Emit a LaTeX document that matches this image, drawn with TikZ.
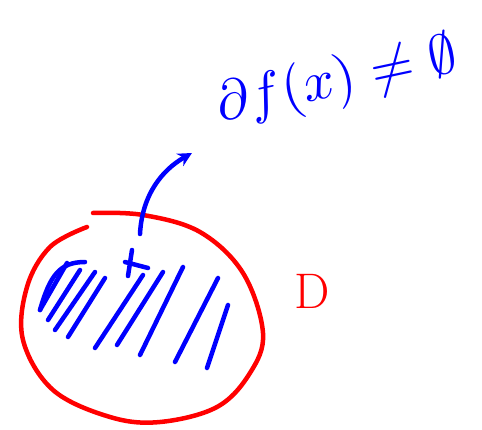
\documentclass[tikz,border=0pt]{standalone}
\usetikzlibrary{arrows.meta}
\usepackage{amsmath,amssymb}

\begin{document}
\begin{tikzpicture}[x=1pt, y=-1pt,
  redpen/.style={draw=red, line width=4.5pt, line cap=round, line join=round},
  bluepen/.style={draw=blue, line width=4.5pt, line cap=round, line join=round},
  arr/.style={-{Stealth[length=14pt, width=14pt]}, bluepen}
]
  \useasboundingbox (0,0) rectangle (482,430);

  % the set D
  \draw[redpen] plot[smooth, tension=0.6] coordinates {
    (93,213) (143,215) (200,232) (243,273) (263,333) (250,373) (217,407)
    (160,422) (110,417) (53,390) (23,340) (27,287) (50,247) (87,227)};
  \node[text=red, font=\fontsize{50}{54}\selectfont] (dlabel) at (312,291) {D};

  % hatching inside D
  \foreach \xa/\ya/\xb/\yb in {40/310/67/263, 48/320/80/270, 55/330/95/272,
      68/337/105/278, 95/348/143/275, 117/345/163/272, 140/355/183/267,
      175/362/218/278, 207/368/228/305}
    \draw[bluepen] (\xa,\ya) -- (\xb,\yb);
  \draw[bluepen] (40,310) .. controls (50,275) and (60,262) .. (85,262);

  % the point x
  \coordinate (xpt) at (137,262);
  \draw[bluepen] (125,262) -- (148,268);
  \draw[bluepen] (132,250) -- (128,276);

  % subdifferential
  \node[text=blue, rotate=12, scale=5.6, transform shape] (subdiff) at (337,82)
    {$\partial f(x) \neq \emptyset$};
  \coordinate (tip) at (192,153);
  \draw[arr] (140,234) .. controls (142,195) and (162,170) .. (tip);
\end{tikzpicture}
\end{document}
